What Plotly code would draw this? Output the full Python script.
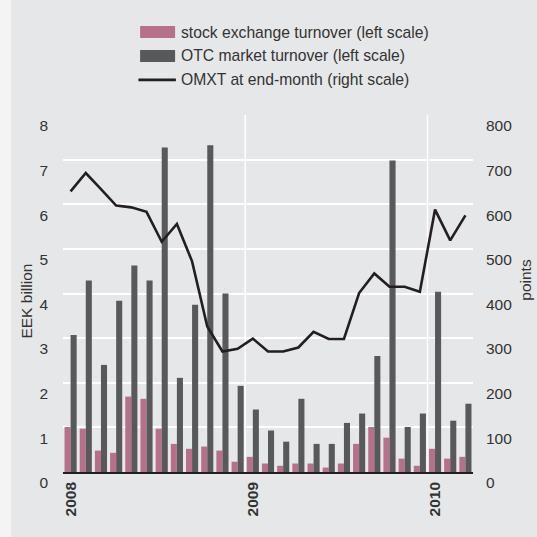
import plotly.graph_objects as go

# Months Jan 2008 .. Mar 2010 (27 months)
months = list(range(27))
year_tick_pos = [0, 12, 24]
year_tick_text = ["2008", "2009", "2010"]
year_boundaries = [11.5, 23.5]

stock_exchange = [1.01, 0.97, 0.48, 0.43, 1.69, 1.64, 0.97, 0.63, 0.52, 0.57, 0.48, 0.23,
                  0.34, 0.19, 0.14, 0.19, 0.19, 0.10, 0.19, 0.63, 1.01, 0.77, 0.30, 0.14,
                  0.52, 0.30, 0.34]
otc_market = [3.07, 4.29, 2.40, 3.84, 4.63, 4.29, 7.27, 2.11, 3.75, 7.32, 4.00, 1.93,
              1.40, 0.93, 0.68, 1.64, 0.63, 0.63, 1.10, 1.31, 2.60, 6.98, 1.01, 1.31,
              4.04, 1.15, 1.53]
omxt = [629, 670, 634, 597, 593, 583, 516, 556, 472, 326, 270, 276,
        299, 270, 270, 279, 314, 298, 298, 401, 445, 415, 415, 404,
        588, 519, 575]

legend_labels = ["stock exchange turnover (left scale)",
                 "OTC market turnover (left scale)",
                 "OMXT at end-month (right scale)"]

PINK = "#b8708a"
DARK = "#58595b"
LINE = "#231f20"
BG = "#e6e7e8"
TXT = "#333333"
FONT = "Liberation Sans, Arial, sans-serif"

fig = go.Figure()
fig.add_trace(go.Bar(x=months, y=stock_exchange, name=legend_labels[0],
                     marker=dict(color=PINK, line=dict(width=0)), showlegend=False))
fig.add_trace(go.Bar(x=months, y=otc_market, name=legend_labels[1],
                     marker=dict(color=DARK, line=dict(width=0)), showlegend=False))
fig.add_trace(go.Scatter(x=months, y=omxt, name=legend_labels[2], yaxis="y2",
                         mode="lines", line=dict(color=LINE, width=2.6),
                         showlegend=False))

shapes = []
# light strip at far left of the picture
shapes.append(dict(type="rect", xref="paper", yref="paper", x0=-0.2, x1=-0.1269,
                   y0=-0.3, y1=1.4, fillcolor="#f4f4f4", line=dict(width=0), layer="above"))
# year boundary grid lines
for b in year_boundaries:
    shapes.append(dict(type="line", xref="x", yref="paper", x0=b, x1=b, y0=0, y1=1,
                       line=dict(color="white", width=1.5), layer="below"))

# custom legend
row_y = [1.2323, 1.1654, 1.0983]
sx0, sx1 = 0.188, 0.2734
h = 0.0168
shapes.append(dict(type="rect", xref="paper", yref="paper", x0=sx0, x1=sx1,
                   y0=row_y[0] - h, y1=row_y[0] + h, fillcolor=PINK, line=dict(width=0)))
shapes.append(dict(type="rect", xref="paper", yref="paper", x0=sx0, x1=sx1,
                   y0=row_y[1] - h, y1=row_y[1] + h, fillcolor=DARK, line=dict(width=0)))
shapes.append(dict(type="line", xref="paper", yref="paper", x0=sx0 - 0.004, x1=sx1 + 0.002,
                   y0=row_y[2], y1=row_y[2], line=dict(color=LINE, width=2.6)))

annotations = []
for lab, yy in zip(legend_labels, row_y):
    annotations.append(dict(text=lab, xref="paper", yref="paper", x=0.282, y=yy,
                            xanchor="left", yanchor="middle", showarrow=False,
                            font=dict(size=15.7, color=TXT, family=FONT)))
annotations.append(dict(text="EEK billion", xref="paper", yref="paper", x=-0.088, y=0.48,
                        xanchor="center", yanchor="middle", textangle=-90, showarrow=False,
                        font=dict(size=15.5, color=TXT, family=FONT)))
annotations.append(dict(text="points", xref="paper", yref="paper", x=1.128, y=0.54,
                        xanchor="center", yanchor="middle", textangle=-90, showarrow=False,
                        font=dict(size=15.5, color=TXT, family=FONT)))

fig.update_layout(
    width=537, height=537,
    margin=dict(l=63, r=64, t=115, b=65, pad=0),
    paper_bgcolor=BG, plot_bgcolor=BG,
    barmode="group", bargap=0.2, bargroupgap=0,
    font=dict(family=FONT, size=15.5, color=TXT),
    shapes=shapes, annotations=annotations,
    xaxis=dict(range=[-0.5, 26.5], tickmode="array", tickvals=year_tick_pos,
               ticktext=year_tick_text, tickangle=-90, showgrid=False, zeroline=False,
               showline=True, linecolor=LINE, linewidth=1.6, ticks="",
               ticklabelstandoff=2,
               tickfont=dict(size=15.5, color=TXT, family=FONT, weight="bold")),
    yaxis=dict(range=[0, 8], tickvals=list(range(0, 9)), showgrid=True,
               gridcolor="white", gridwidth=1.5, zeroline=False, ticks="",
               ticklabelposition="outside bottom", ticklabelstandoff=14,
               tickfont=dict(size=15.5, color=TXT, family=FONT)),
    yaxis2=dict(range=[0, 800], tickvals=list(range(0, 801, 100)), overlaying="y",
                side="right", showgrid=False, zeroline=False, ticks="",
                ticklabelposition="outside bottom", ticklabelstandoff=12,
                tickfont=dict(size=15.5, color=TXT, family=FONT)),
)

fig.write_html("out.html",
               config={"displayModeBar": False},
               post_script="document.body.style.margin='0';"
                           "document.body.style.background='#e6e7e8';")
